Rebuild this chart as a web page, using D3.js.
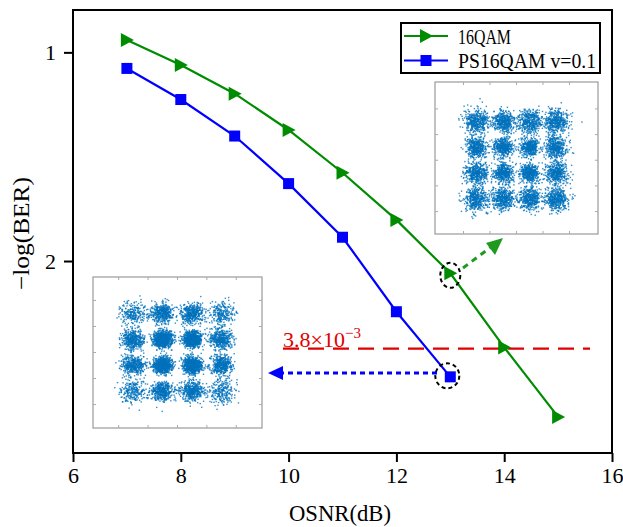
<!DOCTYPE html>
<html>
<head>
<meta charset="utf-8">
<script src="https://cdn.jsdelivr.net/npm/d3@7"></script>
<style>
  body { margin: 0; background: #fff; }
  text { font-family: "Liberation Serif", "Times New Roman", serif; fill: #000; }
</style>
</head>
<body>
<svg id="chart" width="623" height="527"></svg>
<script>
// BER curves, values
var osnr = [7, 8, 9, 10, 11, 12, 13, 14, 15];
var qam16 = [0.941, 1.061, 1.198, 1.372, 1.577, 1.803, 2.059, 2.414, 2.747];
var osnrPS = [7, 8, 9, 10, 11, 12, 13];
var ps16qam = [1.077, 1.226, 1.401, 1.629, 1.886, 2.243, 2.555];
var xTicks = [6, 8, 10, 12, 14, 16];
var yTicks = [1, 2];
var threshold = 2.42; // -log10(3.8e-3)
var seriesNames = ["16QAM", "PS16QAM v=0.1"];

// constellation insets: symbol levels, points per cluster and spread (inner/edge/corner)
var levels = [-3, -1, 1, 3];
var qamCounts = [430, 430, 430];
var qamSigma = [0.36, 0.43, 0.48];
var psCounts = [850, 430, 240];
var psSigma = [0.31, 0.39, 0.44];

var svg = d3.select("#chart");
svg.append("rect").attr("width", 623).attr("height", 527).attr("fill", "#fff");

// note: "top" is taken by window.top, so plot edges get their own names
var plotL = 73, plotR = 612, plotT = 10, plotB = 453;
var x = d3.scaleLinear().domain([6, 16]).range([plotL, plotR]);
var y = d3.scaleLinear().domain([0.797, 2.92]).range([plotT, plotB]);

// frame
svg.append("rect").attr("x", plotL).attr("y", plotT)
  .attr("width", plotR - plotL).attr("height", plotB - plotT)
  .attr("fill", "none").attr("stroke", "#000").attr("stroke-width", 2);

var xAxis = svg.append("g").attr("transform", "translate(0," + plotB + ")")
  .call(d3.axisBottom(x).tickValues(xTicks).tickSize(9).tickPadding(5));
var yAxis = svg.append("g").attr("transform", "translate(" + plotL + ",0)")
  .call(d3.axisLeft(y).tickValues(yTicks).tickFormat(d3.format("d")).tickSize(9).tickPadding(8));
[xAxis, yAxis].forEach(function(a) {
  a.select(".domain").remove();
  a.selectAll("line").attr("stroke-width", 2);
  a.selectAll("text").attr("font-size", 22)
    .attr("font-family", "Liberation Serif, serif").style("fill", "#000");
});

svg.append("text").attr("x", 289).attr("y", 521)
  .attr("font-size", 23).attr("textLength", 102).attr("lengthAdjust", "spacingAndGlyphs")
  .style("fill", "#000").text("OSNR(dB)");
svg.append("text").attr("transform", "translate(29,290) rotate(-90)")
  .attr("font-size", 23).attr("textLength", 113).attr("lengthAdjust", "spacingAndGlyphs")
  .style("fill", "#000").text("\u2212log(BER)");

// ---- insets ----
function drawInset(box, xDom, yDom, counts, sigmas, seed) {
  var sx = d3.scaleLinear().domain(xDom).range([box.x0, box.x1]);
  var sy = d3.scaleLinear().domain(yDom).range([box.y1, box.y0]);
  var g = svg.append("g");
  g.append("rect").attr("x", box.x0).attr("y", box.y0)
    .attr("width", box.x1 - box.x0).attr("height", box.y1 - box.y0)
    .attr("fill", "#fff").attr("stroke", "#9a9a9a").attr("stroke-width", 1.2);
  var tv = [-4, -2, 0, 2, 4];
  tv.forEach(function(t) {
    g.append("line").attr("x1", sx(t)).attr("x2", sx(t)).attr("y1", box.y0).attr("y2", box.y0 + 3).attr("stroke", "#aaa");
    g.append("line").attr("x1", sx(t)).attr("x2", sx(t)).attr("y1", box.y1).attr("y2", box.y1 - 3).attr("stroke", "#aaa");
    g.append("line").attr("y1", sy(t)).attr("y2", sy(t)).attr("x1", box.x0).attr("x2", box.x0 + 3).attr("stroke", "#aaa");
    g.append("line").attr("y1", sy(t)).attr("y2", sy(t)).attr("x1", box.x1).attr("x2", box.x1 - 3).attr("stroke", "#aaa");
  });
  var normal = d3.randomNormal.source(d3.randomLcg(seed))(0, 1);
  var pts = [];
  levels.forEach(function(i) {
    levels.forEach(function(q) {
      var ring = (Math.abs(i) === 1 && Math.abs(q) === 1) ? 0 :
                 (Math.abs(i) === 3 && Math.abs(q) === 3) ? 2 : 1;
      for (var k = 0; k < counts[ring]; k++) {
        pts.push([i + normal() * sigmas[ring], q + normal() * sigmas[ring]]);
      }
    });
  });
  g.selectAll("rect.pt").data(pts).enter().append("rect").attr("class", "pt")
    .attr("x", function(d) { return sx(d[0]) - 0.7; })
    .attr("y", function(d) { return sy(d[1]) - 0.7; })
    .attr("width", 1.4).attr("height", 1.4)
    .attr("fill", "#0072BD").attr("opacity", 0.8);
}

drawInset({x0: 435, x1: 598, y0: 82, y1: 234}, [-6.15, 6.15], [-5.75, 6.1], qamCounts, qamSigma, 0.17);
drawInset({x0: 93, x1: 262, y0: 277, y1: 428}, [-5.75, 5.75], [-5.8, 5.8], psCounts, psSigma, 0.53);

// threshold line + label
svg.append("line").attr("x1", 283).attr("x2", 590)
  .attr("y1", y(threshold)).attr("y2", y(threshold))
  .attr("stroke", "#e00000").attr("stroke-width", 2.2).attr("stroke-dasharray", "16,9");
var lab = svg.append("text").attr("x", 283).attr("y", y(threshold) - 2)
  .attr("font-size", 22).style("fill", "#e00000");
lab.append("tspan").text("3.8\u00d710");
lab.append("tspan").attr("dy", -9).attr("font-size", 15).text("\u22123");

// curves
var line = d3.line().x(function(d) { return x(d[0]); }).y(function(d) { return y(d[1]); });
var greenData = d3.zip(osnr, qam16);
var blueData = d3.zip(osnrPS, ps16qam);

svg.append("path").datum(greenData).attr("d", line)
  .attr("fill", "none").attr("stroke", "#008c00").attr("stroke-width", 2.2);
svg.append("path").datum(blueData).attr("d", line)
  .attr("fill", "none").attr("stroke", "#0000ff").attr("stroke-width", 2.2);

function tri(cx, cy) {
  return "M" + (cx - 6) + "," + (cy - 7) + "L" + (cx + 7) + "," + cy + "L" + (cx - 6) + "," + (cy + 7) + "Z";
}
svg.selectAll("path.tri").data(greenData).enter().append("path").attr("class", "tri")
  .attr("d", function(d) { return tri(x(d[0]), y(d[1])); })
  .attr("fill", "#008c00");
svg.selectAll("rect.sq").data(blueData).enter().append("rect").attr("class", "sq")
  .attr("x", function(d) { return x(d[0]) - 5.5; })
  .attr("y", function(d) { return y(d[1]) - 5.5; })
  .attr("width", 11).attr("height", 11).attr("fill", "#0000ff");

// dashed circles around the points shown in the insets
svg.append("ellipse").attr("cx", x(13)).attr("cy", y(qam16[6]) + 2).attr("rx", 10).attr("ry", 12.5)
  .attr("fill", "none").attr("stroke", "#000").attr("stroke-width", 2).attr("stroke-dasharray", "4,3");
svg.append("ellipse").attr("cx", x(13) - 3).attr("cy", y(ps16qam[6]) - 1).attr("rx", 12).attr("ry", 12.5)
  .attr("fill", "none").attr("stroke", "#000").attr("stroke-width", 2).attr("stroke-dasharray", "4,3");

// arrows to insets
svg.append("line").attr("x1", 463).attr("y1", 268).attr("x2", 491).attr("y2", 247)
  .attr("stroke", "#1f9a1f").attr("stroke-width", 3).attr("stroke-dasharray", "6,5");
svg.append("path").attr("d", "M503,238L486,243L495,255Z").attr("fill", "#1f9a1f");

svg.append("line").attr("x1", 437).attr("y1", 373).attr("x2", 282).attr("y2", 373)
  .attr("stroke", "#0000ff").attr("stroke-width", 3).attr("stroke-dasharray", "5,4");
svg.append("path").attr("d", "M268,373L283,366L283,380Z").attr("fill", "#0000ff");

// legend
var lg = svg.append("g");
lg.append("rect").attr("x", 401).attr("y", 23).attr("width", 199).attr("height", 50)
  .attr("fill", "#fff").attr("stroke", "#000").attr("stroke-width", 2);
var colors = ["#008c00", "#0000ff"];
seriesNames.forEach(function(name, i) {
  var ly = 36 + i * 24.5;
  lg.append("line").attr("x1", 404).attr("x2", 448).attr("y1", ly).attr("y2", ly)
    .attr("stroke", colors[i]).attr("stroke-width", 2.2);
  if (i === 0) lg.append("path").attr("d", tri(426, ly)).attr("fill", colors[i]);
  else lg.append("rect").attr("x", 420.5).attr("y", ly - 5.5).attr("width", 11).attr("height", 11).attr("fill", colors[i]);
  lg.append("text").attr("x", 458).attr("y", ly + 7.5).attr("font-size", 22)
    .attr("textLength", i === 0 ? 53 : 138).attr("lengthAdjust", "spacingAndGlyphs")
    .style("fill", "#000").text(name);
});
</script>
</body>
</html>
